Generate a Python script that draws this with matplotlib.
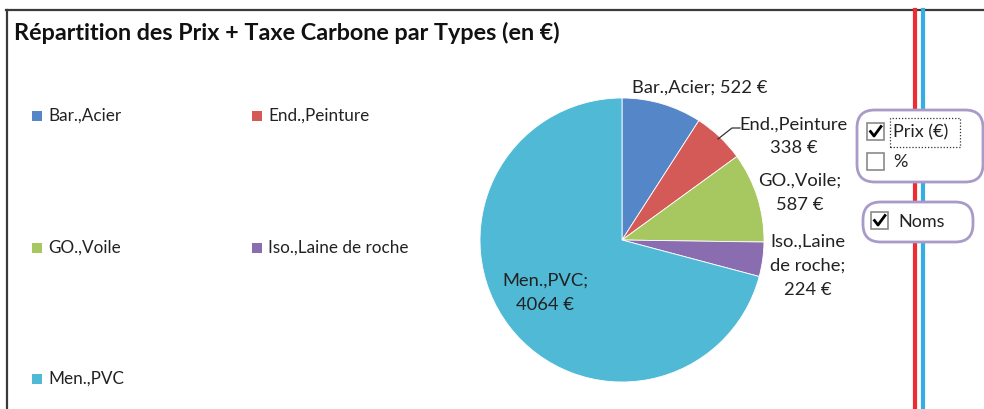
import numpy as np
import matplotlib.pyplot as plt
from matplotlib.patches import Rectangle, FancyBboxPatch
from matplotlib.lines import Line2D

plt.rcParams['font.family'] = ['Lato', 'DejaVu Sans']

# data
categories = ['Bar.,Acier', 'End.,Peinture', 'GO.,Voile', 'Iso.,Laine de roche', 'Men.,PVC']
prices = [522, 338, 587, 224, 4064]
label_texts = ['Bar.,Acier; 522 €', 'End.,Peinture\n338 €', 'GO.,Voile;\n587 €',
               'Iso.,Laine\nde roche;\n224 €', 'Men.,PVC;\n4064 €']
colors = ['#5587c8', '#d35a57', '#a7c760', '#8a6cb0', '#50b9d6']

W, H = 984, 409
fig = plt.figure(figsize=(W / 100, H / 100), dpi=100)


def fx(x):
    return x / W


def fy(y):
    return 1 - y / H


# outer frame of the sheet
fig.add_artist(Line2D([fx(6), fx(984)], [fy(10), fy(10)], color='#3a3a3a', lw=1.6))
fig.add_artist(Line2D([fx(7), fx(7)], [fy(10), fy(409)], color='#3a3a3a', lw=1.6))
fig.add_artist(Line2D([fx(914.5), fx(914.5)], [fy(10), fy(409)], color='#ee2b33', lw=3))
fig.add_artist(Line2D([fx(923), fx(923)], [fy(10), fy(409)], color='#35aee6', lw=3))

fig.text(fx(14), fy(33), 'Répartition des Prix + Taxe Carbone par Types (en €)',
         fontsize=16.8, fontweight='bold', va='center', ha='left', color='#111111')

# pie
cx, cy, r = 622, 240, 142
ax = fig.add_axes([fx(cx - r), fy(cy + r), 2 * r / W, 2 * r / H])
wedges, _ = ax.pie(prices, colors=colors, startangle=90, counterclock=False,
                   wedgeprops=dict(linewidth=0.6, edgecolor='white'))
ax.set_xlim(-1, 1)
ax.set_ylim(-1, 1)
ax.set_aspect('equal')
ax.axis('off')

label_pos = [(0.55, 1.07), (1.21, 0.73), (1.25, 0.33), (1.31, -0.18), (-0.54, -0.37)]
for txt, (lx, ly) in zip(label_texts, label_pos):
    ax.text(lx, ly, txt, ha='center', va='center', fontsize=13.2, color='#222222',
            linespacing=1.62, clip_on=False)

# leader line for the small red slice
ax.add_line(Line2D([(718 - cx) / r, (732 - cx) / r, (740 - cx) / r],
                   [(cy - 139) / r, (cy - 128) / r, (cy - 128) / r],
                   color='#333333', lw=0.9, clip_on=False))

# legend, two columns, row-major
for i, (name, col) in enumerate(zip(categories, colors)):
    row, c = divmod(i, 2)
    x0 = 32 + c * 220
    y0 = 116 + row * 131.5
    fig.add_artist(Rectangle((fx(x0), fy(y0 + 5)), 10 / W, 10 / H, color=col, lw=0))
    fig.text(fx(x0 + 16), fy(y0), name, fontsize=12.3, va='center', ha='left', color='#222222')


# check box panels
def panel(x0, y0, x1, y1):
    fig.add_artist(FancyBboxPatch((fx(x0), fy(y1)), (x1 - x0) / W, (y1 - y0) / H,
                                  boxstyle='round,pad=0,rounding_size=0.018',
                                  mutation_aspect=W / H, zorder=5,
                                  facecolor='white', edgecolor='#a99bc8', lw=2))


def checkbox(x0, y0, size, checked):
    fig.add_artist(Rectangle((fx(x0), fy(y0 + size)), size / W, size / H, zorder=6,
                             facecolor='white', edgecolor='#8a8a8a', lw=1.2))
    if checked:
        fig.add_artist(Line2D([fx(x0 + 3.5), fx(x0 + 7), fx(x0 + size - 3)],
                              [fy(y0 + size / 2), fy(y0 + size - 4), fy(y0 + 3.5)],
                              color='black', lw=2, zorder=7))


def box_text(x, y, s):
    fig.text(fx(x), fy(y), s, fontsize=13, va='center', ha='left', color='#222222', zorder=7)


panel(857, 110, 983, 182)
panel(863, 202, 973, 242)

checkbox(867, 123, 17, True)
box_text(893, 132, 'Prix (€)')
fig.add_artist(Rectangle((fx(890), fy(147)), 70 / W, 29 / H, fill=False, zorder=7,
                         edgecolor='#333333', lw=0.9, linestyle=(0, (1, 1.5))))
checkbox(867, 153, 17, False)
box_text(893, 162, '%')
checkbox(871, 212, 17, True)
box_text(898, 222, 'Noms')

fig.savefig('out.png', dpi=100)
